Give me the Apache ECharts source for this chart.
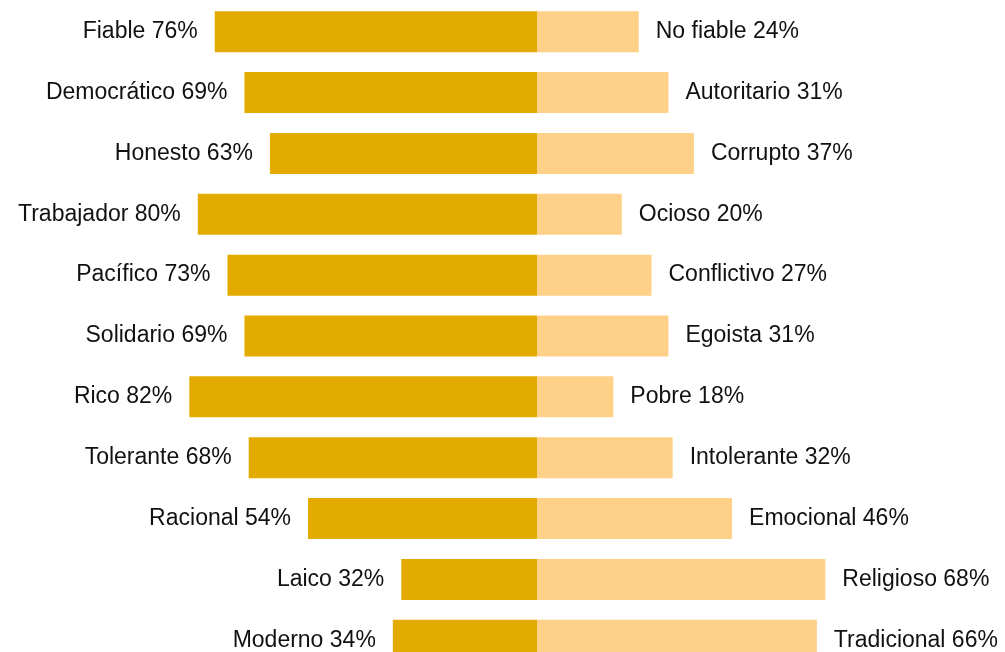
<!DOCTYPE html>
<html>
<head>
<meta charset="utf-8">
<script src="https://cdn.jsdelivr.net/npm/echarts@6/dist/echarts.min.js"></script>
<style>
html, body { margin: 0; padding: 0; background: #fff; }
#chart { width: 1005px; height: 652px; }
</style>
</head>
<body>
<div id="chart"></div>
<script>
// datos
var leftNames = ['Fiable', 'Democrático', 'Honesto', 'Trabajador', 'Pacífico', 'Solidario', 'Rico', 'Tolerante', 'Racional', 'Laico', 'Moderno'];
var leftValues = [76, 69, 63, 80, 73, 69, 82, 68, 54, 32, 34];
var rightNames = ['No fiable', 'Autoritario', 'Corrupto', 'Ocioso', 'Conflictivo', 'Egoista', 'Pobre', 'Intolerante', 'Emocional', 'Religioso', 'Tradicional'];
var rightValues = [24, 31, 37, 20, 27, 31, 18, 32, 46, 68, 66];

var chart = echarts.init(document.getElementById('chart'));

var labelStyle = {
    show: true,
    color: '#111',
    fontSize: 23,
    fontFamily: 'Liberation Sans, Arial, sans-serif',
    distance: 17
};

var option = {
    animation: false,
    grid: {
        left: 113,
        width: 848,
        top: 1.25,
        bottom: -18.75,
        outerBoundsMode: 'none'
    },
    xAxis: {
        type: 'value',
        min: -100,
        max: 100,
        show: false
    },
    yAxis: {
        type: 'category',
        inverse: true,
        data: leftNames,
        show: false
    },
    series: [{
        name: 'izq',
        type: 'bar',
        stack: 'total',
        barWidth: 41,
        itemStyle: { color: '#E3AA00' },
        label: Object.assign({}, labelStyle, {
            position: 'left',
            formatter: function (p) {
                return leftNames[p.dataIndex] + ' ' + leftValues[p.dataIndex] + '%';
            }
        }),
        data: leftValues.map(function (v) { return -v; })
    }, {
        name: 'der',
        type: 'bar',
        stack: 'total',
        barWidth: 41,
        itemStyle: { color: '#FFD088' },
        label: Object.assign({}, labelStyle, {
            position: 'right',
            formatter: function (p) {
                return rightNames[p.dataIndex] + ' ' + rightValues[p.dataIndex] + '%';
            }
        }),
        data: rightValues
    }]
};
chart.setOption(option);
</script>
</body>
</html>
